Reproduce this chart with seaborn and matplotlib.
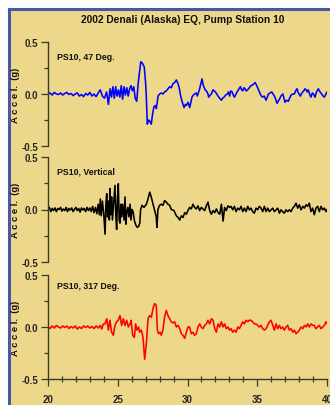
import numpy as np
import matplotlib
matplotlib.use("Agg")
import matplotlib.pyplot as plt
import seaborn as sns
from matplotlib.patches import Rectangle
from matplotlib.ticker import MultipleLocator

# PS10, 47 Deg. (time s, accel g)
ps10_047 = [
    (20.0, 0.0), (20.15, 0.01), (20.3, -0.01), (20.45, 0.015), (20.6, 0.0), (20.75, -0.005),
    (20.9, 0.01), (21.05, -0.01), (21.2, 0.005), (21.35, 0.015), (21.5, -0.005), (21.65, 0.005),
    (21.8, -0.015), (21.95, 0.0), (22.1, 0.01), (22.25, -0.02), (22.4, -0.005), (22.55, -0.025),
    (22.7, 0.005), (22.85, -0.01), (23.0, 0.015), (23.15, -0.02), (23.3, 0.0), (23.45, -0.025),
    (23.6, 0.01), (23.75, 0.04), (23.9, -0.02), (24.05, -0.04), (24.2, 0.02), (24.33, -0.1),
    (24.45, 0.05), (24.55, -0.03), (24.65, 0.07), (24.75, -0.04), (24.85, 0.07), (24.95, -0.02),
    (25.05, 0.04), (25.15, -0.03), (25.25, 0.08), (25.35, -0.05), (25.45, 0.07), (25.55, -0.01),
    (25.65, 0.06), (25.75, -0.02), (25.85, 0.05), (25.95, 0.08), (26.05, 0.03), (26.15, 0.07),
    (26.25, -0.04), (26.36, -0.07), (26.45, 0.08), (26.55, 0.2), (26.65, 0.31), (26.75, 0.3),
    (26.9, 0.26), (27.0, 0.1), (27.05, -0.03), (27.12, -0.29), (27.2, -0.25), (27.29, -0.26),
    (27.4, -0.29), (27.5, -0.19), (27.6, -0.12), (27.7, -0.11), (27.77, -0.14), (27.89, -0.02),
    (28.0, 0.0), (28.12, 0.01), (28.24, 0.0), (28.36, 0.02), (28.48, 0.03), (28.6, 0.05),
    (28.72, 0.07), (28.84, 0.06), (28.96, 0.10), (29.08, 0.11), (29.2, 0.135), (29.32, 0.10),
    (29.42, 0.05), (29.51, -0.02), (29.63, -0.08), (29.75, -0.13), (29.85, -0.1), (29.92, -0.11),
    (30.04, -0.08), (30.16, -0.13), (30.32, -0.03), (30.42, -0.01), (30.51, 0.0), (30.62, 0.01),
    (30.7, -0.02), (30.87, 0.05), (30.96, 0.1), (31.04, 0.145), (31.12, 0.09), (31.18, 0.065),
    (31.27, 0.04), (31.35, 0.03), (31.44, 0.01), (31.52, -0.03), (31.62, -0.01), (31.71, 0.0),
    (31.83, 0.04), (31.92, 0.03), (32.0, 0.02), (32.1, 0.0), (32.19, -0.02), (32.3, -0.04),
    (32.43, -0.06), (32.52, -0.04), (32.62, -0.03), (32.74, -0.01), (32.86, 0.0), (32.94, 0.02),
    (33.02, -0.02), (33.1, 0.03), (33.2, 0.02), (33.28, -0.01), (33.36, -0.03), (33.48, 0.0),
    (33.6, 0.03), (33.7, 0.05), (33.79, 0.07), (33.88, 0.04), (33.96, 0.03), (34.04, 0.06),
    (34.12, 0.05), (34.2, 0.03), (34.31, 0.04), (34.43, 0.06), (34.55, 0.08), (34.7, 0.09),
    (34.84, 0.11), (34.93, 0.09), (35.03, 0.06), (35.12, 0.03), (35.22, 0.0), (35.3, -0.02),
    (35.39, -0.03), (35.5, -0.02), (35.63, -0.06), (35.72, -0.03), (35.8, 0.0), (35.92, 0.01),
    (36.04, 0.02), (36.13, 0.0), (36.23, -0.02), (36.32, -0.05), (36.42, -0.09), (36.5, -0.07),
    (36.59, -0.05), (36.7, -0.02), (36.83, 0.0), (36.9, -0.03), (36.99, -0.08), (37.1, -0.06),
    (37.23, -0.07), (37.32, -0.04), (37.42, -0.01), (37.55, 0.0), (37.66, 0.0), (37.75, 0.03),
    (37.85, 0.05), (37.95, 0.01), (38.09, -0.02), (38.2, 0.01), (38.33, 0.03), (38.42, 0.05),
    (38.5, 0.04), (38.58, 0.02), (38.66, 0.04), (38.75, 0.0), (38.85, -0.03), (38.95, 0.01),
    (39.04, 0.0), (39.14, -0.03), (39.25, 0.02), (39.38, 0.05), (39.5, 0.02), (39.62, 0.0),
    (39.72, -0.02), (39.81, -0.03), (39.92, 0.0), (40.0, 0.02),
]

# PS10, Vertical
ps10_up = [
    (20.0, 0.0), (20.1, 0.02), (20.2, -0.02), (20.3, 0.01), (20.4, -0.01), (20.5, 0.015),
    (20.6, -0.02), (20.7, 0.01), (20.8, 0.0), (20.9, 0.02), (21.0, -0.015), (21.1, 0.005),
    (21.2, -0.01), (21.3, 0.02), (21.4, -0.02), (21.5, 0.01), (21.6, -0.005), (21.7, 0.015),
    (21.8, -0.02), (21.9, 0.0), (22.0, 0.02), (22.1, -0.01), (22.2, 0.01), (22.3, -0.025),
    (22.4, 0.015), (22.5, -0.005), (22.6, 0.01), (22.7, -0.02), (22.8, 0.02), (22.9, -0.01),
    (23.0, 0.015), (23.1, -0.02), (23.2, 0.03), (23.3, -0.03), (23.4, 0.02), (23.5, -0.04),
    (23.6, 0.05), (23.68, -0.05), (23.75, 0.1), (23.82, -0.06), (23.9, 0.08), (24.0, -0.05),
    (24.09, -0.235), (24.15, 0.05), (24.21, 0.15), (24.27, -0.07), (24.33, 0.08), (24.4, -0.1),
    (24.44, 0.2), (24.5, -0.05), (24.56, 0.12), (24.62, -0.1), (24.7, 0.05), (24.8, 0.23),
    (24.86, -0.05), (24.92, -0.19), (24.98, 0.1), (25.04, 0.245), (25.1, -0.1), (25.16, -0.13),
    (25.22, 0.05), (25.28, -0.07), (25.35, 0.05), (25.45, -0.1), (25.52, 0.12), (25.58, -0.14),
    (25.65, -0.02), (25.72, 0.02), (25.8, -0.07), (25.88, 0.05), (25.95, -0.1), (26.02, 0.0),
    (26.1, -0.02), (26.2, -0.11), (26.3, -0.15), (26.4, -0.17), (26.5, -0.16), (26.58, -0.13),
    (26.64, 0.0), (26.74, 0.04), (26.88, 0.02), (27.05, 0.05), (27.17, 0.1), (27.29, 0.165),
    (27.4, 0.12), (27.53, 0.05), (27.64, -0.01), (27.76, -0.07), (27.81, -0.17), (27.88, 0.0),
    (28.0, 0.04), (28.12, 0.05), (28.24, 0.04), (28.36, 0.085), (28.48, 0.07), (28.6, 0.05),
    (28.72, 0.04), (28.84, 0.0), (29.03, -0.01), (29.2, -0.06), (29.32, -0.075), (29.44, -0.1),
    (29.56, -0.06), (29.68, -0.075), (29.8, -0.03), (29.92, -0.045), (30.03, -0.01), (30.15, 0.02),
    (30.27, 0.005), (30.39, 0.05), (30.51, 0.02), (30.63, 0.005), (30.75, 0.035), (30.87, -0.01),
    (30.99, 0.02), (31.11, 0.005), (31.23, -0.01), (31.35, 0.035), (31.47, 0.07), (31.59, -0.01),
    (31.71, -0.045), (31.83, -0.01), (31.95, -0.03), (32.07, 0.005), (32.19, -0.03), (32.31, -0.045),
    (32.43, 0.05), (32.55, -0.11), (32.66, 0.02), (32.78, -0.01), (32.9, 0.035), (33.02, 0.02),
    (33.12, 0.03), (33.24, -0.003), (33.36, 0.03), (33.48, -0.02), (33.6, 0.013), (33.72, -0.003),
    (33.84, 0.03), (33.96, -0.02), (34.08, 0.013), (34.2, -0.02), (34.32, 0.03), (34.43, -0.003),
    (34.55, 0.013), (34.67, -0.02), (34.79, -0.035), (34.91, 0.013), (35.03, -0.003), (35.15, 0.03),
    (35.27, 0.013), (35.39, -0.02), (35.51, 0.03), (35.63, -0.02), (35.75, 0.013), (35.87, -0.02),
    (35.99, -0.003), (36.11, 0.013), (36.23, -0.02), (36.35, -0.003), (36.47, 0.013), (36.59, -0.035),
    (36.7, -0.003), (36.82, -0.02), (36.94, -0.035), (37.06, -0.003), (37.18, -0.02), (37.3, -0.003),
    (37.42, -0.02), (37.54, 0.013), (37.66, 0.03), (37.78, 0.06), (37.9, 0.013), (38.02, 0.045),
    (38.14, -0.003), (38.26, 0.03), (38.38, 0.013), (38.5, 0.045), (38.61, 0.03), (38.73, 0.06),
    (38.85, -0.02), (38.97, 0.013), (39.09, -0.05), (39.21, 0.013), (39.33, 0.03), (39.45, -0.02),
    (39.57, 0.03), (39.69, -0.003), (39.81, 0.013), (39.93, -0.02), (40.0, 0.0),
]

# PS10, 317 Deg.
ps10_317 = [
    (20.0, 0.0), (20.15, -0.015), (20.3, 0.01), (20.45, -0.01), (20.6, 0.015), (20.75, 0.0),
    (20.9, -0.01), (21.05, 0.01), (21.2, -0.005), (21.35, 0.01), (21.5, -0.015), (21.65, 0.005),
    (21.8, -0.01), (21.95, 0.01), (22.1, -0.02), (22.25, 0.0), (22.4, -0.015), (22.55, 0.01),
    (22.7, -0.005), (22.85, 0.01), (23.0, -0.01), (23.15, 0.005), (23.3, -0.015), (23.45, 0.01),
    (23.6, -0.01), (23.75, 0.015), (23.85, -0.02), (23.97, 0.03), (24.09, 0.03), (24.21, 0.08),
    (24.33, -0.03), (24.44, 0.065), (24.56, -0.05), (24.68, -0.08), (24.8, 0.015), (24.92, 0.05),
    (25.04, 0.065), (25.16, 0.11), (25.28, 0.015), (25.4, 0.08), (25.52, 0.015), (25.64, 0.065),
    (25.76, 0.0), (25.88, 0.03), (25.96, 0.065), (26.07, -0.08), (26.19, -0.1), (26.28, 0.03),
    (26.38, -0.03), (26.5, 0.0), (26.57, -0.05), (26.69, -0.03), (26.81, -0.1), (26.93, -0.31),
    (27.05, -0.16), (27.17, 0.08), (27.29, 0.11), (27.41, 0.095), (27.53, 0.18), (27.64, 0.225),
    (27.76, 0.21), (27.84, -0.03), (27.93, -0.065), (28.03, -0.05), (28.12, -0.08), (28.24, -0.03),
    (28.36, 0.1), (28.48, 0.16), (28.6, 0.11), (28.72, 0.08), (28.84, 0.05), (28.96, 0.04),
    (29.08, 0.05), (29.2, 0.0), (29.32, 0.016), (29.44, -0.016), (29.56, -0.065), (29.68, -0.08),
    (29.8, -0.11), (29.92, -0.05), (30.03, 0.0), (30.15, 0.0), (30.27, -0.065), (30.39, -0.05),
    (30.51, -0.08), (30.63, -0.065), (30.75, 0.0), (30.87, 0.03), (30.99, 0.0), (31.11, -0.016),
    (31.23, 0.016), (31.35, 0.03), (31.47, 0.065), (31.59, 0.03), (31.71, 0.08), (31.83, 0.065),
    (31.95, -0.016), (32.07, -0.05), (32.19, 0.03), (32.31, 0.0), (32.43, 0.05), (32.55, 0.0),
    (32.66, 0.03), (32.78, -0.016), (32.9, 0.0), (33.02, -0.03), (33.12, -0.016), (33.24, -0.05),
    (33.36, -0.03), (33.48, -0.05), (33.6, 0.0), (33.72, -0.016), (33.84, 0.016), (33.96, 0.05),
    (34.08, 0.03), (34.2, 0.065), (34.32, 0.05), (34.43, 0.065), (34.55, 0.065), (34.67, 0.05),
    (34.79, 0.03), (34.91, 0.03), (35.03, 0.016), (35.15, 0.0), (35.27, 0.016), (35.39, -0.016),
    (35.51, -0.03), (35.63, -0.016), (35.75, 0.016), (35.87, 0.05), (35.99, 0.065), (36.11, 0.016),
    (36.23, -0.03), (36.35, 0.03), (36.47, -0.016), (36.59, 0.016), (36.7, -0.016), (36.82, 0.0),
    (36.94, -0.03), (37.06, 0.0), (37.18, 0.016), (37.3, -0.03), (37.42, -0.016), (37.54, -0.05),
    (37.66, -0.03), (37.78, -0.065), (37.9, -0.05), (38.02, -0.03), (38.14, 0.0), (38.26, -0.016),
    (38.38, 0.016), (38.5, 0.0), (38.61, 0.03), (38.73, 0.0), (38.85, 0.03), (38.97, 0.016),
    (39.09, 0.016), (39.21, -0.016), (39.33, 0.0), (39.45, 0.016), (39.57, -0.016), (39.69, 0.0),
    (39.81, 0.016), (39.93, 0.05), (40.0, 0.03),
]

traces = [ps10_047, ps10_up, ps10_317]
labels = ["PS10, 47 Deg.", "PS10, Vertical", "PS10, 317 Deg."]
colors = ["#0000FF", "#000000", "#FF0000"]
title = "2002 Denali (Alaska) EQ, Pump Station 10"

sns.set_theme(style="ticks")
fam = ["Liberation Sans", "DejaVu Sans"]
plt.rcParams["font.family"] = fam
plt.rcParams["font.weight"] = "bold"

bg = "#ECD78A"
fig = plt.figure(figsize=(3.30, 4.06), dpi=100, facecolor="white")

# tan panel with blue frame (cut off at right and bottom)
fig.patches.append(Rectangle((8.5 / 330, -0.2), 2.0, 1 - 10 / 406 + 0.2,
                             transform=fig.transFigure, facecolor=bg,
                             edgecolor="#4A56A6", linewidth=2.2, zorder=-1))

fig.text(183 / 330, 1 - 20 / 406, title, ha="center", va="center",
         fontsize=7.4, fontweight="bold", color="#111111")

# axes boxes in pixels (top, bottom)
boxes = [(43, 147), (158, 263), (276, 380)]
left, right = 48, 327
label_y = [0.865, 0.87, 0.895]

for i, (tr, lab, col) in enumerate(zip(traces, labels, colors)):
    top, bot = boxes[i]
    ax = fig.add_axes([left / 330, 1 - bot / 406, (right - left) / 330, (bot - top) / 406])
    ax.set_facecolor("none")
    t = [p[0] for p in tr]
    a = [p[1] for p in tr]
    sns.lineplot(x=t, y=a, ax=ax, color=col, linewidth=1.15, estimator=None, sort=False)
    ax.set_xlim(20, 40)
    ax.set_ylim(-0.5, 0.5)
    ax.set_yticks([-0.5, 0.0, 0.5])
    ax.set_yticklabels(["-0.5", "0.0", "0.5"])
    ax.yaxis.set_minor_locator(MultipleLocator(0.25))
    for s in ["top", "right"]:
        ax.spines[s].set_visible(False)
    ax.spines["left"].set_color("#3a3a2a")
    ax.spines["left"].set_linewidth(1.0)
    ax.tick_params(axis="y", which="major", length=5, width=0.9, color="#3a3a2a",
                   labelsize=7, pad=2)
    ax.tick_params(axis="y", which="minor", length=3, width=0.9, color="#3a3a2a")
    for tl in ax.get_yticklabels():
        tl.set_fontweight("bold")
    if i < 2:
        ax.spines["bottom"].set_visible(False)
        ax.set_xticks([])
        ax.xaxis.set_minor_locator(plt.NullLocator())
    else:
        ax.spines["bottom"].set_color("#3a3a2a")
        ax.spines["bottom"].set_linewidth(1.0)
        ax.set_xticks([20, 25, 30, 35, 40])
        ax.set_xticklabels(["20", "25", "30", "35", "40"])
        ax.xaxis.set_minor_locator(MultipleLocator(1))
        ax.tick_params(axis="x", which="major", length=5, width=0.9, color="#3a3a2a",
                       labelsize=7, pad=5.5)
        ax.tick_params(axis="x", which="minor", length=4, width=0.9, color="#3a3a2a",
                       direction="inout")
        for tl in ax.get_xticklabels():
            tl.set_fontweight("bold")
    ax.set_xlabel("")
    ax.set_ylabel("")
    ax.text(0.032, label_y[i], lab, transform=ax.transAxes, ha="left", va="center",
            fontsize=6.3, fontweight="bold", color="#111111")
    fig.text(15 / 330, 1 - (top + bot) / 2 / 406, "A c c e l.  (g)", rotation=90,
             ha="center", va="center", fontsize=6.8, fontweight="bold", color="#111111")

fig.savefig("out.png", dpi=100, facecolor="white")
